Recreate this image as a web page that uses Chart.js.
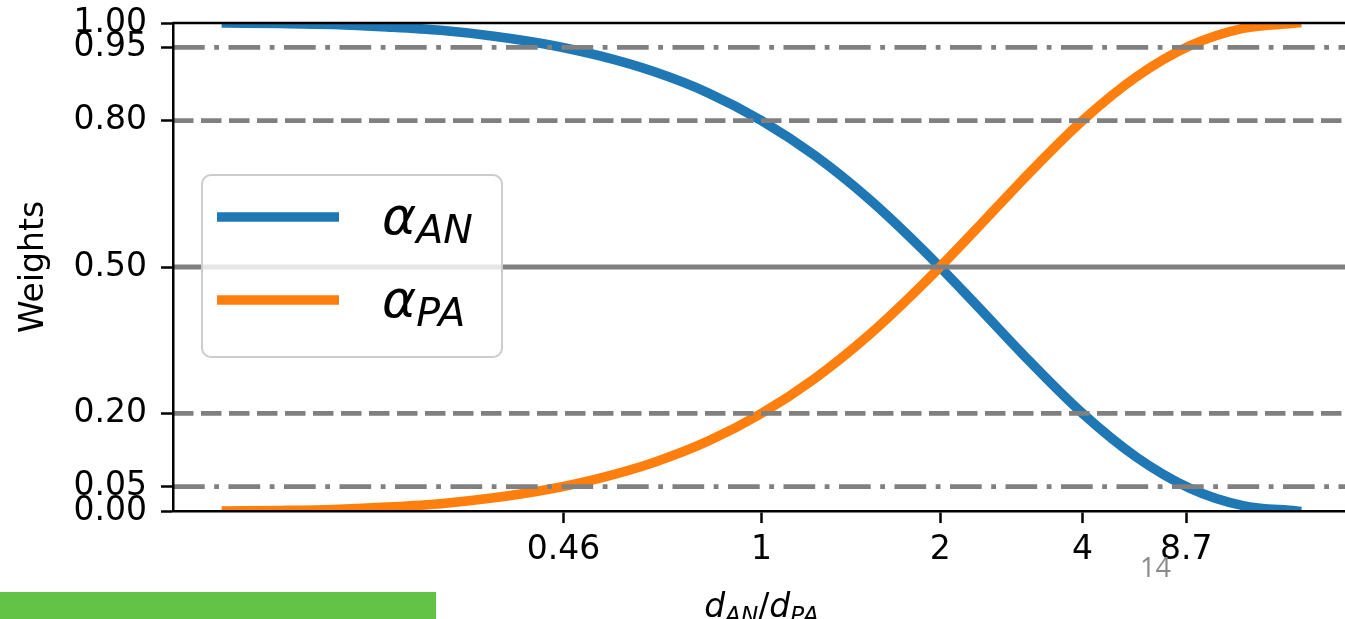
<!DOCTYPE html>
<html>
<head>
<meta charset="utf-8">
<script src="https://cdn.jsdelivr.net/npm/chart.js@4.4.0/dist/chart.umd.min.js"></script>
<style>
  html, body { margin: 0; padding: 0; background: #fff; overflow: hidden; width: 1345px; height: 619px; }
  #wrap { position: absolute; left: 0; top: 0; width: 1360px; height: 619px; }
  #bar { position: absolute; left: 0; top: 592px; width: 436px; height: 27px; background: #62c346; }
  #num { position: absolute; left: 1140px; top: 553px; font-family: 'Open Sans', sans-serif; font-size: 27px; line-height: 27px; color: #8a8a8a; }
</style>
</head>
<body>
<div id="wrap"><canvas id="chart" width="1360" height="619"></canvas></div>
<div id="bar"></div>
<div id="num">14</div>
<script>
// position along the x axis (d_AN, with d_AN + d_PA = 10)
const dAN = [0, 0.5, 1, 1.5, 2, 2.5, 3, 3.5, 4, 4.5, 5, 5.5, 6, 6.5, 7, 7.5, 8, 8.5, 9, 9.5, 10];
// weights
const alphaAN = [1.000, 0.999, 0.997, 0.992, 0.985, 0.973, 0.956, 0.932, 0.900, 0.857, 0.800,
                 0.728, 0.640, 0.537, 0.424, 0.308, 0.200, 0.111, 0.047, 0.011, 0.000];
const alphaPA = [0.000, 0.001, 0.003, 0.008, 0.015, 0.027, 0.044, 0.068, 0.100, 0.143, 0.200,
                 0.272, 0.360, 0.463, 0.576, 0.692, 0.800, 0.889, 0.953, 0.989, 1.000];

// x ticks are labelled with the ratio d_AN/d_PA
const xTickPos = [3.15, 5, 6.67, 8, 8.97];
const xTickLabels = ['0.46', '1', '2', '4', '8.7'];
const yTickVals = [0, 0.05, 0.2, 0.5, 0.8, 0.95, 1];
const xRange = [-0.5, 10.5];

// horizontal guide lines
const refLevels = [0.95, 0.8, 0.5, 0.2, 0.05];
const refKinds = ['dashdot', 'dashed', 'solid', 'dashed', 'dashdot'];

const dashStyles = {
  dashdot: [31.7, 9.5, 4.8, 9.5],
  dashed: [20.5, 7.5],
  solid: []
};
const FONT = "'DejaVu Sans'";

const refSets = refLevels.map((lvl, i) => ({
  label: 'ref' + i,
  data: [{ x: xRange[0], y: lvl }, { x: xRange[1], y: lvl }],
  borderColor: '#808080',
  borderWidth: 4.8,
  borderDash: dashStyles[refKinds[i]],
  borderCapStyle: 'butt',
  pointRadius: 0,
  clip: 0,
  order: 0
}));

const curveSets = [
  { label: 'AN', data: dAN.map((x, i) => ({ x: x, y: alphaAN[i] })), borderColor: '#1f77b4', order: 2 },
  { label: 'PA', data: dAN.map((x, i) => ({ x: x, y: alphaPA[i] })), borderColor: '#ff7f0e', order: 1 }
].map(d => Object.assign(d, {
  borderWidth: 9.6,
  borderCapStyle: 'square',
  borderJoinStyle: 'round',
  cubicInterpolationMode: 'monotone',
  pointRadius: 0,
  clip: 0
}));

// text like d_AN : main part then a smaller, lowered subscript
function mathWidth(ctx, parts, size, subScale) {
  let w = 0;
  parts.forEach(p => {
    ctx.font = (p.it ? 'italic ' : '') + size + 'px ' + FONT;
    w += ctx.measureText(p.t).width;
    if (p.sub) {
      ctx.font = 'italic ' + (size * subScale) + 'px ' + FONT;
      w += ctx.measureText(p.sub).width;
    }
  });
  return w;
}
function drawMath(ctx, parts, x, y, size, subScale) {
  ctx.textAlign = 'left';
  ctx.textBaseline = 'alphabetic';
  parts.forEach(p => {
    ctx.font = (p.it ? 'italic ' : '') + size + 'px ' + FONT;
    ctx.fillText(p.t, x, y);
    x += ctx.measureText(p.t).width;
    if (p.sub) {
      ctx.font = 'italic ' + (size * subScale) + 'px ' + FONT;
      ctx.fillText(p.sub, x, y + size * 0.18);
      x += ctx.measureText(p.sub).width;
    }
  });
}

const extras = {
  id: 'extras',
  afterDraw(chart) {
    const { ctx, chartArea: a } = chart;
    ctx.save();
    // top and right spines
    ctx.strokeStyle = '#000';
    ctx.lineWidth = 2.5;
    ctx.beginPath();
    ctx.moveTo(a.left, a.top);
    ctx.lineTo(a.right, a.top);
    ctx.lineTo(a.right, a.bottom);
    ctx.stroke();

    ctx.fillStyle = '#000';
    // y title
    ctx.save();
    ctx.font = '33px ' + FONT;
    ctx.translate(43, (a.top + a.bottom) / 2);
    ctx.rotate(-Math.PI / 2);
    ctx.textAlign = 'center';
    ctx.textBaseline = 'alphabetic';
    ctx.fillText('Weights', 0, 0);
    ctx.restore();

    // x title
    const xt = [{ t: 'd', sub: 'AN', it: true }, { t: '/', it: false }, { t: 'd', sub: 'PA', it: true }];
    const w = mathWidth(ctx, xt, 33, 0.7);
    drawMath(ctx, xt, (a.left + a.right) / 2 - w / 2, 617, 33, 0.7);

    // legend
    const lx = a.left + 29, ly = a.top + 152, lw = 300, lh = 182;
    ctx.beginPath();
    ctx.roundRect(lx, ly, lw, lh, 9);
    ctx.fillStyle = 'rgba(255,255,255,0.8)';
    ctx.fill();
    ctx.strokeStyle = '#cccccc';
    ctx.lineWidth = 2;
    ctx.stroke();
    curveSets.forEach((ds, i) => {
      const cy = ly + 42 + i * 83;
      ctx.strokeStyle = ds.borderColor;
      ctx.lineWidth = 9.6;
      ctx.lineCap = 'butt';
      ctx.beginPath();
      ctx.moveTo(lx + 15, cy);
      ctx.lineTo(lx + 137, cy);
      ctx.stroke();
      ctx.fillStyle = '#000';
      drawMath(ctx, [{ t: 'α', sub: ds.label, it: true }], lx + 180, cy + 17, 52, 0.76);
    });
    ctx.restore();
  }
};

const tickFont = { family: 'DejaVu Sans', size: 33 };
const axisGrid = { drawOnChartArea: false, drawTicks: true, tickLength: 12, tickWidth: 2.5, tickColor: '#000' };
const axisBorder = { display: true, color: '#000', width: 2.5, z: 1 };

new Chart(document.getElementById('chart'), {
  type: 'line',
  data: { datasets: refSets.concat(curveSets) },
  options: {
    responsive: false,
    animation: false,
    devicePixelRatio: 1,
    layout: { padding: { left: 0, top: 23, right: 10, bottom: 0 } },
    plugins: { legend: { display: false }, tooltip: { enabled: false } },
    scales: {
      x: {
        type: 'linear',
        min: xRange[0],
        max: xRange[1],
        afterBuildTicks: s => { s.ticks = xTickPos.map(v => ({ value: v })); },
        afterFit: s => { s.height = 108; s.paddingLeft = 0; s.paddingRight = 0; },
        ticks: {
          autoSkip: false,
          maxRotation: 0,
          padding: 8,
          color: '#000',
          font: tickFont,
          callback: v => xTickLabels[xTickPos.indexOf(v)]
        },
        grid: axisGrid,
        border: axisBorder
      },
      y: {
        type: 'linear',
        min: 0,
        max: 1,
        afterBuildTicks: s => { s.ticks = yTickVals.map(v => ({ value: v })); },
        afterFit: s => { s.width = 173; s.paddingTop = 0; s.paddingBottom = 0; },
        ticks: {
          autoSkip: false,
          padding: 14,
          color: '#000',
          font: tickFont,
          callback: v => v.toFixed(2)
        },
        grid: axisGrid,
        border: axisBorder
      }
    }
  },
  plugins: [extras]
});
</script>
</body>
</html>
